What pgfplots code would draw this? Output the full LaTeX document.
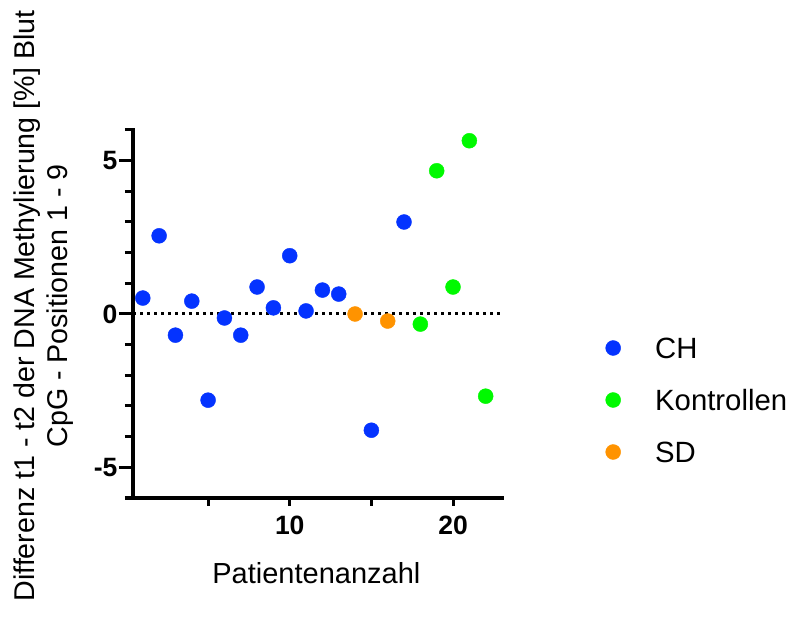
\documentclass[border=0pt]{standalone}
\usepackage{pgfplots}
\pgfplotsset{compat=1.18}
\usepackage{fontspec}
\setmainfont{Liberation Sans}
\definecolor{chblue}{RGB}{4,51,255}
\definecolor{kgreen}{RGB}{0,249,0}
\definecolor{sdorange}{RGB}{255,147,0}
\begin{document}
\begin{tikzpicture}
\useasboundingbox (0,0) rectangle (789bp,619bp);
\begin{axis}[
  at={(133bp,121bp)}, anchor=south west,
  scale only axis, width=369bp, height=368bp,
  xmin=0.4, xmax=23, ymin=-6, ymax=6,
  clip=false,
  axis lines=left,
  axis line style={-, line width=3bp, line cap=rect},
  tick align=outside,
  tick style={line width=3bp, black},
  major tick length=8bp,
  xtick={5,10,15,20}, xticklabels={,10,,20},
  ytick={-6,-5,...,6}, yticklabels={,-5,,,,,0,,,,,5,},
  extra y ticks={-5,0,5}, extra y tick labels={},
  extra y tick style={major tick length=14bp},
  every tick label/.append style={font=\fontsize{26.5bp}{30bp}\selectfont\bfseries},
  xticklabel style={yshift=-6bp},
  yticklabel style={xshift=-4bp},
  xlabel={Patientenanzahl},
  xlabel style={at={(axis description cs:0.497,-0.231)}, anchor=base, font=\fontsize{29bp}{33bp}\selectfont},
  ylabel={Differenz t1 - t2 der DNA Methylierung [\%] Blut\\CpG - Positionen 1 - 9},
  ylabel style={at={(axis description cs:-0.2412,0.5217)}, anchor=center, align=center, font=\fontsize{28.6bp}{33bp}\selectfont},
  legend style={draw=none, fill=none, inner sep=0pt,
    at={(axis description cs:1.2791,0.2663)}, anchor=west,
    font=\fontsize{29.3bp}{33bp}\selectfont, row sep=32bp, column sep=0pt,
    nodes={inner sep=0pt, text height=20bp, text depth=0bp}},
  legend cell align=left,
  legend image code/.code={\path[draw=none, fill=none] (-8bp,-8bp) rectangle (42bp,8bp);
    \draw[#1] plot coordinates {(0bp,0bp)};},
]
\addplot[forget plot, black, line width=3bp, dash pattern=on 2.5bp off 4.5bp] coordinates {(0.4,0) (23,0)};
\addplot[only marks, mark=*, mark size=7.5bp, chblue, mark options={draw=none, fill=chblue}] coordinates {
(1,0.52) (2,2.55) (3,-0.69) (4,0.42) (5,-2.81) (6,-0.13) (7,-0.69) (8,0.88)
(9,0.20) (10,1.90) (11,0.10) (12,0.78) (13,0.65) (15,-3.79) (17,3.00)};
\addlegendentry{CH}
\addplot[only marks, mark=*, mark size=7.5bp, kgreen, mark options={draw=none, fill=kgreen}] coordinates {
(18,-0.33) (19,4.67) (20,0.88) (21,5.65) (22,-2.68)};
\addlegendentry{Kontrollen}
\addplot[only marks, mark=*, mark size=7.5bp, sdorange, mark options={draw=none, fill=sdorange}] coordinates {
(14,0.00) (16,-0.23)};
\addlegendentry{SD}
\end{axis}
\end{tikzpicture}
\end{document}
